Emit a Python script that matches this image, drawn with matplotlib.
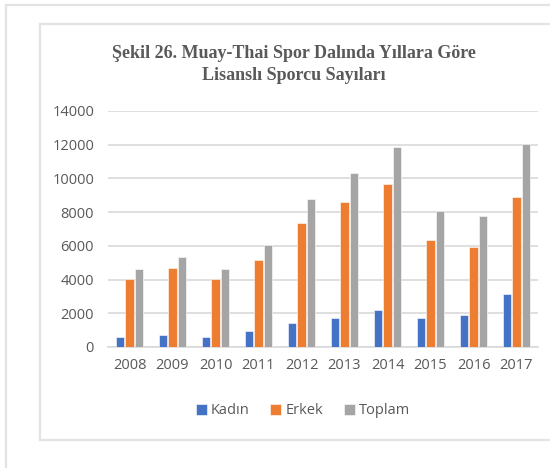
import matplotlib
matplotlib.use("Agg")
import matplotlib.pyplot as plt
import numpy as np
from matplotlib.lines import Line2D

years = ["2008", "2009", "2010", "2011", "2012", "2013", "2014", "2015", "2016", "2017"]
kadin = [610, 690, 600, 960, 1420, 1700, 2170, 1700, 1870, 3140]
erkek = [4010, 4700, 4060, 5150, 7330, 8590, 9690, 6360, 5960, 8880]
toplam = [4620, 5330, 4620, 6080, 8770, 10320, 11870, 8070, 7800, 12050]
series_names = ["Kadın", "Erkek", "Toplam"]
colors = ["#4472C4", "#ED7D31", "#A5A5A5"]
title_lines = ["Şekil 26. Muay-Thai Spor Dalında Yıllara Göre", "Lisanslı Sporcu Sayıları"]

fig = plt.figure(figsize=(5.5, 4.68), dpi=100)
W, H = 550, 468

# outer and inner frames (light gray)
def hline(y, x0, x1):
    fig.add_artist(Line2D([x0 / W, x1 / W], [1 - y / H, 1 - y / H], color="#E3E3E3", lw=1.6))

def vline(x, y0, y1):
    fig.add_artist(Line2D([x / W, x / W], [1 - y0 / H, 1 - y1 / H], color="#E3E3E3", lw=1.6))

hline(5, 6, 550)
vline(6, 5, 468)
hline(24, 40, 550)
hline(440, 40, 550)
vline(40, 24, 440)

ax = fig.add_axes([108 / W, 1 - 347 / H, 430 / W, (347 - 111) / H])

x = np.arange(len(years))
w = 0.19
step = 0.215
for i, (vals, name, c) in enumerate(zip([kadin, erkek, toplam], series_names, colors)):
    ax.bar(x + (i - 1) * step, vals, width=w, color=c, label=name,
           edgecolor="white", linewidth=0.4, zorder=3)

ax.set_xlim(-0.5, len(years) - 0.5)
ax.set_ylim(0, 14000)
ax.set_yticks(range(0, 14001, 2000))
ax.set_xticks(x)
ax.set_xticklabels(years)
ax.grid(axis="y", color="#D9D9D9", lw=1.2, zorder=0)
for s in ["top", "right", "left"]:
    ax.spines[s].set_visible(False)
ax.spines["bottom"].set_color("#D9D9D9")
ax.spines["bottom"].set_linewidth(1.2)
ax.tick_params(length=0, labelsize=10.5, labelcolor="#595959", pad=8)
for lab in ax.get_xticklabels() + ax.get_yticklabels():
    lab.set_family("Open Sans")
ax.tick_params(axis="y", pad=10)

for line, yy in zip(title_lines, [53, 76]):
    fig.text(294 / W, 1 - yy / H, line, ha="center", va="center", fontsize=13,
             fontweight="bold", family="Liberation Serif", color="#595959")

leg = fig.legend(loc="center", bbox_to_anchor=(303 / W, 1 - 411 / H), ncol=3,
                 frameon=False, handlelength=0.75, handleheight=0.75,
                 handletextpad=0.3, columnspacing=1.4,
                 prop={"family": "Open Sans", "size": 10.5})
for t in leg.get_texts():
    t.set_color("#595959")

fig.savefig("out.png", dpi=100)
